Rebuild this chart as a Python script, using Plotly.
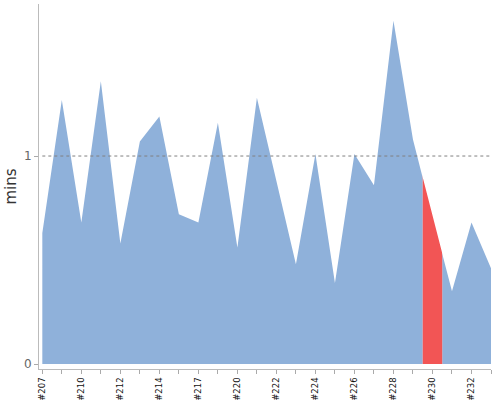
import plotly.graph_objects as go

# builds (only every other one gets a label on the axis)
builds = ["#207", "#208", "#210", "#211", "#212", "#213", "#214", "#216",
          "#217", "#219", "#220", "#221", "#222", "#223", "#224", "#225",
          "#226", "#227", "#228", "#229", "#230", "#231", "#232", "#233"]
mins = [0.63, 1.27, 0.68, 1.36, 0.58, 1.07, 1.19, 0.72,
        0.68, 1.16, 0.56, 1.28, 0.88, 0.48, 1.01, 0.39,
        1.01, 0.86, 1.65, 1.08, 0.71, 0.35, 0.68, 0.46]
threshold = 1
highlight = "#230"
y_ticks = [0, 1]

blue = "rgb(143,177,218)"
red = "rgb(242,85,85)"

tick_text = [b if i % 2 == 0 else "" for i, b in enumerate(builds)]

# x range: small gap left of the first point, like the original
x_lo, x_hi = -0.17, len(builds) - 1
hi = builds.index(highlight)
span = x_hi - x_lo

fig = go.Figure()

fig.add_trace(go.Scatter(
    x=builds, y=mins, mode="lines", fill="tozeroy",
    line=dict(color=blue, width=0), fillcolor=blue,
    hoverinfo="x+y", showlegend=False,
))

# same series again on a narrow overlay axis -> clipped to the highlighted build
fig.add_trace(go.Scatter(
    x=builds, y=mins, mode="lines", fill="tozeroy",
    line=dict(color=red, width=0), fillcolor=red,
    xaxis="x2", yaxis="y", hoverinfo="skip", showlegend=False,
))

fig.add_shape(type="line", xref="x", yref="y",
              x0=builds[0], x1=builds[-1], y0=threshold, y1=threshold,
              line=dict(color="#808080", width=1, dash="dot"), layer="above")

fig.update_layout(
    width=500, height=400,
    margin=dict(l=39, r=9, t=4, b=31, autoexpand=False),
    paper_bgcolor="white", plot_bgcolor="white",
    font=dict(family="DejaVu Sans", color="#333"),
    xaxis=dict(
        type="category", categoryarray=builds, range=[x_lo, x_hi],
        tickvals=builds, ticktext=tick_text, tickangle=-90,
        ticks="outside", ticklen=4, tickcolor="#aaa",
        showline=True, linecolor="#bbb", linewidth=1,
        showgrid=False, zeroline=False,
        tickfont=dict(size=8.5, color="#111"), automargin=False,
    ),
    xaxis2=dict(
        type="category", categoryarray=builds,
        range=[hi - 0.5, hi + 0.5],
        domain=[(hi - 0.5 - x_lo) / span, (hi + 0.5 - x_lo) / span],
        anchor="y", visible=False, showgrid=False, zeroline=False,
    ),
    yaxis=dict(
        range=[-0.024, 1.731], tickvals=y_ticks,
        ticks="outside", ticklen=4, tickcolor="#aaa",
        showline=True, linecolor="#bbb", linewidth=1,
        showgrid=False, zeroline=False,
        tickfont=dict(size=12, color="#666"),
        title=dict(text="mins", font=dict(size=15, color="#333"), standoff=3),
        automargin=False,
    ),
)

# page has a default 8px body margin; drop it so the figure sits at 0,0
fig.write_html("out.html", config={"displayModeBar": False},
               post_script="document.body.style.margin='0';")
